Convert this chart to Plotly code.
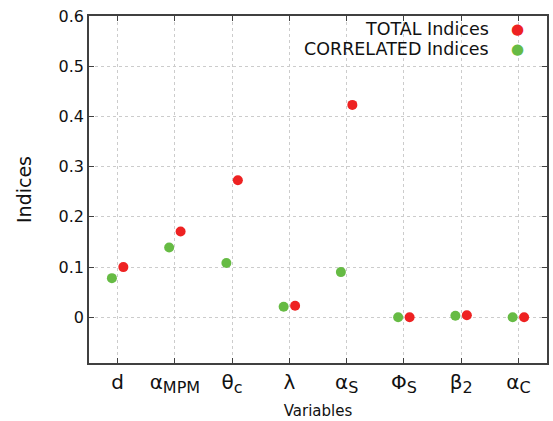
import plotly.graph_objects as go

categories = ["d", "α<sub>MPM</sub>", "θ<sub>c</sub>", "λ", "α<sub>S</sub>", "Φ<sub>S</sub>", "β<sub>2</sub>", "α<sub>C</sub>"]
total_indices = [0.100, 0.171, 0.273, 0.023, 0.423, 0.000, 0.004, 0.000]
correlated_indices = [0.078, 0.139, 0.108, 0.021, 0.090, 0.000, 0.003, 0.000]
y_ticks = [0, 0.1, 0.2, 0.3, 0.4, 0.5, 0.6]
series_names = ["TOTAL Indices", "CORRELATED Indices"]

RED = "#ee2222"
GREEN = "#66bb44"
FONT = "DejaVu Sans"

# enlarge subscripts a little (gnuplot uses ~0.8 of base size)
tick_text = [c.replace("<sub>", "<sub><span style='font-size:16px'>").replace("</sub>", "</span></sub>")
             for c in categories]

idx = list(range(len(categories)))
fig = go.Figure()
fig.add_trace(go.Scatter(x=[i - 0.1 for i in idx], y=correlated_indices, mode="markers",
                         marker=dict(color=GREEN, size=10), name=series_names[1]))
fig.add_trace(go.Scatter(x=[i + 0.1 for i in idx], y=total_indices, mode="markers",
                         marker=dict(color=RED, size=10), name=series_names[0]))

legend_ann = []
for name, col, yy in [(series_names[0], RED, 0.963), (series_names[1], GREEN, 0.905)]:
    legend_ann.append(dict(xref="paper", yref="paper", x=0.876, y=yy, xanchor="right", yanchor="middle",
                           text=name, showarrow=False, height=16, borderpad=0,
                           font=dict(size=17.5, family=FONT, color="#111111")))
    legend_ann.append(dict(xref="paper", yref="paper", x=0.935, y=yy, xanchor="center", yanchor="middle",
                           text="●", showarrow=False, height=15, borderpad=0,
                           font=dict(size=15, family=FONT, color=col)))

fig.update_layout(
    width=553, height=421,
    margin=dict(l=89, r=4, t=16, b=56),
    plot_bgcolor="white", paper_bgcolor="white",
    showlegend=False,
    font=dict(family=FONT, color="#111111"),
    xaxis=dict(
        range=[-0.5, 7.5], tickvals=idx, ticktext=tick_text,
        tickfont=dict(size=20), ticks="inside", ticklen=5, tickcolor="#404040",
        showline=True, linecolor="#404040", linewidth=1.5, mirror="ticks",
        showgrid=True, gridcolor="#cccccc", griddash="dot", gridwidth=1,
        zeroline=False,
        title=dict(text="Variables", font=dict(size=15), standoff=10),
    ),
    yaxis=dict(
        range=[-0.091, 0.6], tickvals=y_ticks, ticktext=["0", "0.1", "0.2", "0.3", "0.4", "0.5", "0.6"],
        tickfont=dict(size=16), ticks="inside", ticklen=5, tickcolor="#404040",
        showline=True, linecolor="#404040", linewidth=1.5, mirror="ticks",
        showgrid=True, gridcolor="#cccccc", griddash="dot", gridwidth=1,
        zeroline=False,
        title=dict(text="Indices", font=dict(size=19), standoff=22),
    ),
    annotations=legend_ann,
)

fig.write_html("out.html")
